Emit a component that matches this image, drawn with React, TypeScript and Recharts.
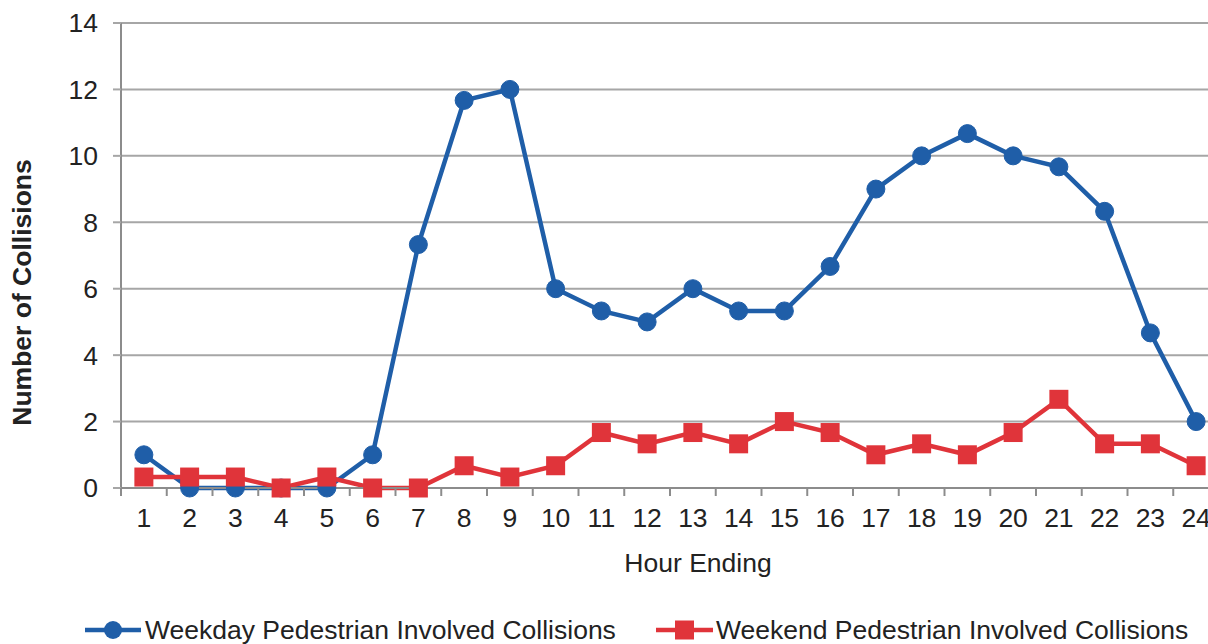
import { LineChart, Line, XAxis, YAxis, CartesianGrid, Legend } from "recharts";

const hours = ["1", "2", "3", "4", "5", "6", "7", "8", "9", "10", "11", "12", "13", "14", "15", "16", "17", "18", "19", "20", "21", "22", "23", "24"];
const weekday = [1, 0, 0, 0, 0, 1, 7.33, 11.67, 12, 6, 5.33, 5, 6, 5.33, 5.33, 6.67, 9, 10, 10.67, 10, 9.67, 8.33, 4.67, 2];
const weekend = [0.33, 0.33, 0.33, 0, 0.33, 0, 0, 0.67, 0.33, 0.67, 1.67, 1.33, 1.67, 1.33, 2, 1.67, 1, 1.33, 1, 1.67, 2.67, 1.33, 1.33, 0.67];
const yTicks = [0, 2, 4, 6, 8, 10, 12, 14];

const BLUE = "#1f5ea8";
const RED = "#e0343a";
const GRID = "#a6a6a6";
const AXIS = "#8c8c8c";
const TEXT = "#222";
const FONT = "'Liberation Sans', Arial, sans-serif";
const FS = 26.5;

const CHART_W = 1219;
const CHART_H = 644;
const PLOT_LEFT = 121;
const PLOT_TOP = 23;
const PLOT_BOTTOM = 488;
const LEGEND_H = 44;
const BAND = (CHART_W - PLOT_LEFT) / hours.length;

const data = hours.map((h, i) => ({ hour: h, weekday: weekday[i], weekend: weekend[i] }));

function HourTick(props: any) {
  const { x, payload } = props;
  const left = x - BAND / 2;
  return (
    <g>
      <line x1={left} x2={left} y1={PLOT_BOTTOM} y2={PLOT_BOTTOM + 8} stroke={AXIS} strokeWidth={2} />
      <text x={x} y={527} textAnchor="middle" fontSize={FS} fill={TEXT} fontFamily={FONT}>
        {payload.value}
      </text>
    </g>
  );
}

function SquareDot(props: any) {
  const { cx, cy } = props;
  if (cx == null || cy == null) return null;
  return <rect x={cx - 9.5} y={cy - 9.5} width={19} height={19} fill={RED} />;
}

// legend row sits at the very bottom, like the Excel original
function LegendBox() {
  return (
    <svg width={1208} height={LEGEND_H} style={{ display: "block" }}>
      <line x1={85} x2={141} y1={30} y2={30} stroke={BLUE} strokeWidth={4.5} />
      <circle cx={113} cy={30} r={9} fill={BLUE} />
      <text x={145} y={39} fontSize={FS} fill={TEXT} fontFamily={FONT}>
        Weekday Pedestrian Involved Collisions
      </text>
      <line x1={656} x2={713} y1={30} y2={30} stroke={RED} strokeWidth={4.5} />
      <rect x={675} y={20.5} width={19} height={19} fill={RED} />
      <text x={716} y={39} fontSize={FS} fill={TEXT} fontFamily={FONT}>
        Weekend Pedestrian Involved Collisions
      </text>
    </svg>
  );
}

export default function App() {
  return (
    <div style={{ position: "absolute", left: 0, top: 0, width: 1208, height: 644, overflow: "hidden", background: "#fff" }}>
      <LineChart
        width={CHART_W}
        height={CHART_H}
        data={data}
        margin={{ top: PLOT_TOP, right: 0, left: 0, bottom: 0 }}
      >
        <CartesianGrid vertical={false} stroke={GRID} strokeWidth={2} />
        <XAxis
          dataKey="hour"
          height={CHART_H - PLOT_BOTTOM - LEGEND_H}
          padding={{ left: BAND / 2, right: BAND / 2 }}
          axisLine={{ stroke: AXIS, strokeWidth: 2 }}
          tickLine={false}
          tick={<HourTick />}
          interval={0}
          label={{
            value: "Hour Ending",
            content: () => (
              <text x={698} y={572} textAnchor="middle" fontSize={FS} fill={TEXT} fontFamily={FONT}>
                Hour Ending
              </text>
            ),
          }}
        />
        <YAxis
          width={PLOT_LEFT}
          domain={[0, 14]}
          ticks={yTicks}
          interval={0}
          axisLine={{ stroke: AXIS, strokeWidth: 2 }}
          tickLine={{ stroke: GRID, strokeWidth: 2 }}
          tickSize={8}
          tickMargin={15}
          tick={{ fontSize: FS, fill: TEXT, fontFamily: FONT }}
          label={{
            value: "Number of Collisions",
            content: (p: any) => {
              const vb = p.viewBox;
              const cy = vb.y + vb.height / 2 + 37;
              return (
                <text
                  x={22}
                  y={cy}
                  transform={`rotate(-90, 22, ${cy})`}
                  textAnchor="middle"
                  dominantBaseline="central"
                  fontSize={FS}
                  fontWeight="bold"
                  fill={TEXT}
                  fontFamily={FONT}
                >
                  Number of Collisions
                </text>
              );
            },
          }}
        />
        <Legend
          verticalAlign="bottom"
          align="left"
          height={LEGEND_H}
          content={() => <LegendBox />}
          wrapperStyle={{ left: 0, bottom: 0 }}
        />
        <Line
          dataKey="weekday"
          name="Weekday Pedestrian Involved Collisions"
          stroke={BLUE}
          strokeWidth={4.5}
          dot={{ r: 9, fill: BLUE, stroke: BLUE, strokeWidth: 1 }}
          activeDot={false}
          isAnimationActive={false}
        />
        <Line
          dataKey="weekend"
          name="Weekend Pedestrian Involved Collisions"
          stroke={RED}
          strokeWidth={4.5}
          dot={<SquareDot />}
          activeDot={false}
          isAnimationActive={false}
        />
      </LineChart>
    </div>
  );
}
